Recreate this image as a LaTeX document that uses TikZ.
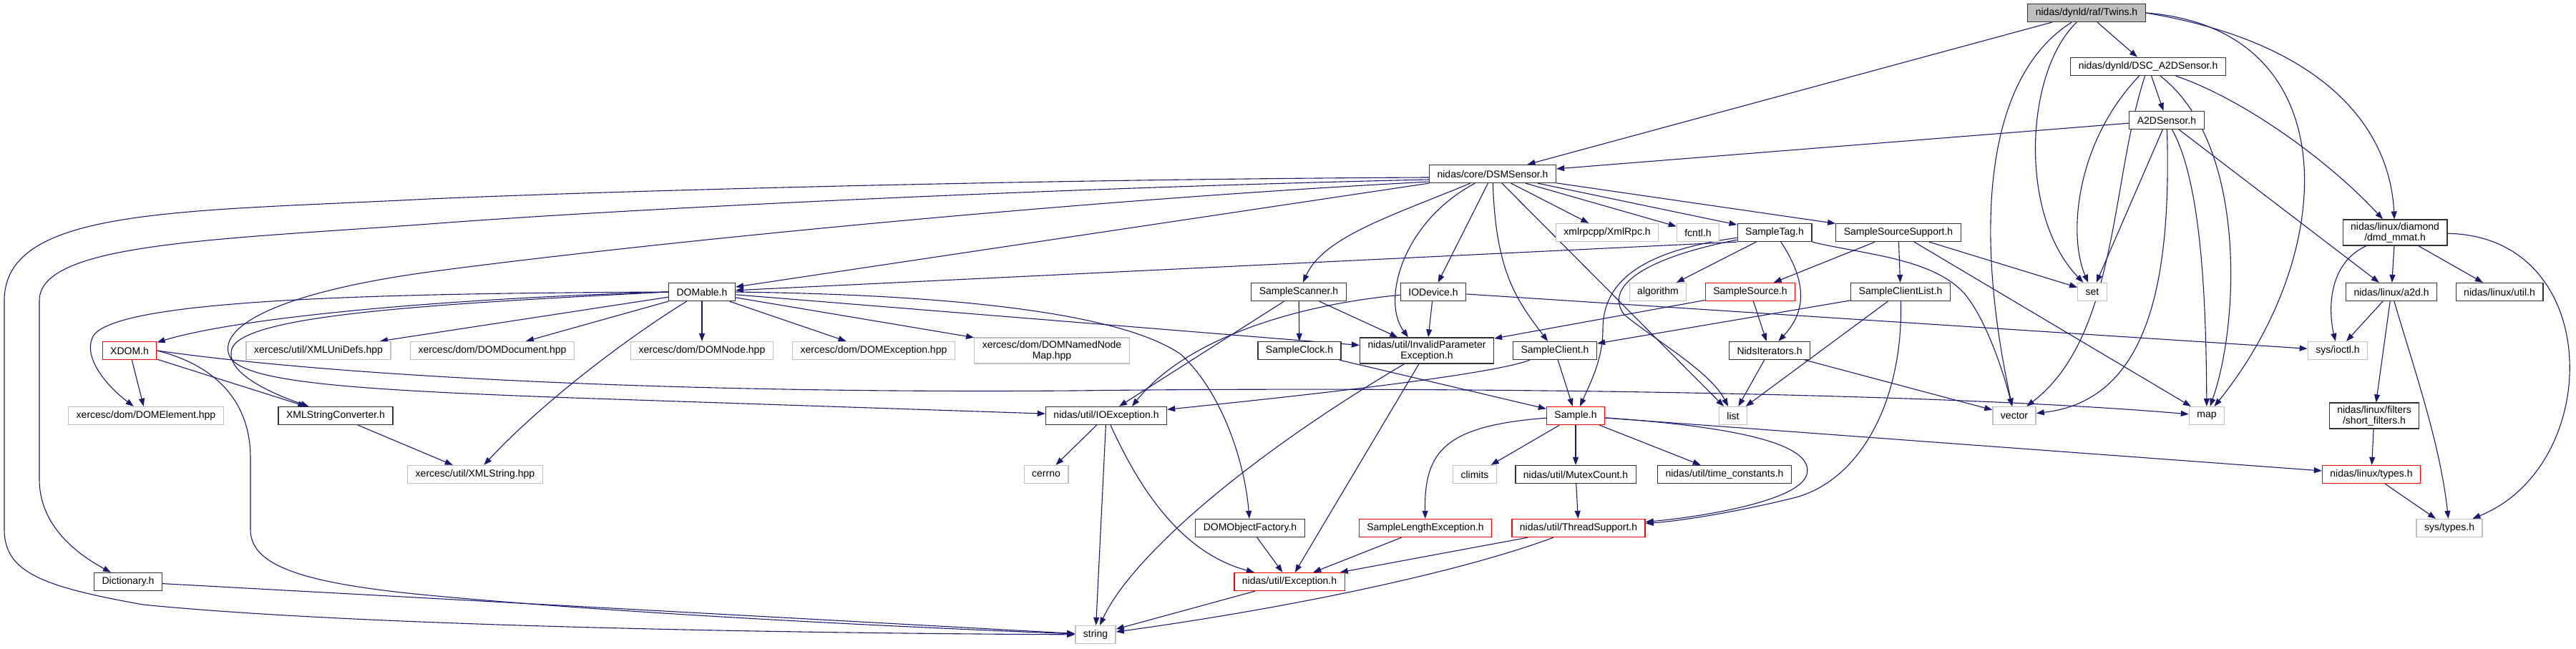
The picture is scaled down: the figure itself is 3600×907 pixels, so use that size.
\documentclass[tikz,border=0pt]{standalone}
\usepackage{fontspec}
\setmainfont{Liberation Sans}
\usetikzlibrary{arrows.meta,backgrounds}
\definecolor{depblue}{HTML}{191970}
\definecolor{sysgray}{HTML}{BFBFBF}

\begin{document}
\begin{tikzpicture}[x=1pt, y=-1pt,
  hfile/.style={rectangle, draw=black!80, line width=1.3pt, fill=white,
                minimum height=25pt, inner xsep=11pt, inner ysep=4pt,
                align=center, font=\fontsize{14}{15}\selectfont},
  sysfile/.style={hfile, draw=sysgray},
  badfile/.style={hfile, draw=red},
  rootfile/.style={hfile, fill=sysgray},
  dep/.style={draw=depblue, line width=1.1pt, -{Triangle[length=11pt,width=8pt]}},
]
  \useasboundingbox (0,0) rectangle (3600,907);

  % Top: Twins and the A2D sensor chain
  \node[rootfile] (twins) at (2916,18) {nidas/dynld/raf/Twins.h};
  \node[hfile] (dsc) at (3002,93) {nidas/dynld/DSC\_A2DSensor.h};
  \node[hfile] (a2ds) at (3028,168) {A2DSensor.h};
  \node[hfile] (dsm) at (2086,243) {nidas/core/DSMSensor.h};

  % Row under DSMSensor
  \node[sysfile] (xmlrpc) at (2246,325) {xmlrpcpp/XmlRpc.h};
  \node[sysfile] (fcntl) at (2373,325) {fcntl.h};
  \node[hfile] (stag) at (2480,325) {SampleTag.h};
  \node[hfile] (sss) at (2653,325) {SampleSourceSupport.h};
  \node[hfile] (dmd) at (3347,325) {nidas/linux/diamond\\/dmd\_mmat.h};

  \node[hfile] (domable) at (981,408) {DOMable.h};
  \node[hfile] (sscan) at (1815,408) {SampleScanner.h};
  \node[hfile] (iodev) at (2003,408) {IODevice.h};
  \node[sysfile] (algo) at (2317,408) {algorithm};
  \node[badfile] (ssource) at (2446,408) {SampleSource.h};
  \node[hfile] (sclist) at (2656,408) {SampleClientList.h};
  \node[sysfile] (set) at (2924,408) {set};
  \node[hfile] (a2d) at (3342,408) {nidas/linux/a2d.h};
  \node[hfile] (lutil) at (3493,408) {nidas/linux/util.h};

  % xerces headers and friends
  \node[badfile] (xdom) at (181,490) {XDOM.h};
  \node[sysfile] (unidefs) at (445,490) {xercesc/util/XMLUniDefs.hpp};
  \node[sysfile] (domdoc) at (688,490) {xercesc/dom/DOMDocument.hpp};
  \node[sysfile] (domnode) at (981,490) {xercesc/dom/DOMNode.hpp};
  \node[sysfile] (domexc) at (1221,490) {xercesc/dom/DOMException.hpp};
  \node[sysfile] (domnnm) at (1470,490) {xercesc/dom/DOMNamedNode\\Map.hpp};
  \node[hfile] (sclock) at (1816,490) {SampleClock.h};
  \node[hfile] (invparam) at (1994,490) {nidas/util/InvalidParameter\\Exception.h};
  \node[hfile] (sclient) at (2173,490) {SampleClient.h};
  \node[hfile] (niter) at (2473,490) {NidsIterators.h};
  \node[sysfile] (ioctl) at (3267,490) {sys/ioctl.h};

  \node[sysfile] (domelem) at (204,581) {xercesc/dom/DOMElement.hpp};
  \node[hfile] (xmlconv) at (469,581) {XMLStringConverter.h};
  \node[hfile] (ioexc) at (1546,581) {nidas/util/IOException.h};
  \node[badfile] (sample) at (2202,581) {Sample.h};
  \node[sysfile] (list) at (2422,581) {list};
  \node[sysfile] (vector) at (2815,581) {vector};
  \node[sysfile] (map) at (3084,581) {map};
  \node[hfile] (shortf) at (3318,581) {nidas/linux/filters\\/short\_filters.h};

  \node[sysfile] (xmlstr) at (664,663) {xercesc/util/XMLString.hpp};
  \node[sysfile] (cerrno) at (1462,663) {cerrno};
  \node[sysfile] (climits) at (2061,663) {climits};
  \node[hfile] (mutex) at (2202,663) {nidas/util/MutexCount.h};
  \node[hfile] (timec) at (2410,663) {nidas/util/time\_constants.h};
  \node[badfile] (ltypes) at (3314,663) {nidas/linux/types.h};

  \node[hfile] (domof) at (1747,738) {DOMObjectFactory.h};
  \node[badfile] (slexc) at (1992,738) {SampleLengthException.h};
  \node[badfile] (tsupport) at (2206,738) {nidas/util/ThreadSupport.h};
  \node[sysfile] (systypes) at (3423,738) {sys/types.h};

  \node[hfile] (dict) at (179,813) {Dictionary.h};
  \node[badfile] (exc) at (1802,813) {nidas/util/Exception.h};
  \node[sysfile] (string) at (1531,887) {string};

  \begin{scope}[on background layer]
  % Twins and sensor chain
  \draw[dep] (twins) -- (dsm);
  \draw[dep] (twins) -- (dsc);
  \draw[dep] (twins) .. controls (2770,110) and (2760,330) .. (vector);
  \draw[dep] (twins) .. controls (2830,100) and (2820,300) .. (set);
  \draw[dep] (twins.east) .. controls (3280,40) and (3270,350) .. (map);
  \draw[dep] (twins.east) .. controls (3250,60) and (3340,180) .. (dmd);
  \draw[dep] (dsc) -- (a2ds);
  \draw[dep] (dsc) .. controls (2900,200) and (2890,330) .. (set);
  \draw[dep] (dsc) .. controls (2950,250) and (2960,470) .. (vector);
  \draw[dep] (dsc) .. controls (3140,200) and (3130,450) .. (map);
  \draw[dep] (dsc) .. controls (3140,140) and (3260,230) .. (dmd);
  \draw[dep] (a2ds) -- (dsm);
  \draw[dep] (a2ds) -- (set);
  \draw[dep] (a2ds) .. controls (3035,400) and (3000,560) .. (vector);
  \draw[dep] (a2ds) .. controls (3080,260) and (3083,450) .. (map);
  \draw[dep] (a2ds) -- (a2d);
  \draw[dep] (dmd) -- (a2d);
  \draw[dep] (dmd) -- (lutil);
  \draw[dep] (dmd) .. controls (3250,370) and (3255,440) .. (ioctl);
  \draw[dep] (dmd) .. controls (3640,330) and (3640,650) .. (systypes);
  \draw[dep] (a2d) -- (ioctl);
  \draw[dep] (a2d) -- (shortf);
  \draw[dep] (a2d) .. controls (3375,520) and (3410,620) .. (systypes);
  \draw[dep] (shortf) -- (ltypes);
  \draw[dep] (ltypes) -- (systypes);

  % DSMSensor
  \draw[dep] (dsm) -- (domable);
  \draw[dep] ([yshift=-5pt]dsm.west) .. controls (1500,250) and (900,265) .. (600,278)
        .. controls (250,296) and (6,290) .. (6,420) -- (6,740)
        .. controls (6,800) and (60,820) .. (200,845)
        .. controls (500,875) and (1100,885) .. (string);
  \draw[dep] ([yshift=-8pt]dsm.west) .. controls (1500,262) and (900,290) .. (600,313)
        .. controls (300,335) and (55,340) .. (55,420) -- (55,670)
        .. controls (55,730) and (100,770) .. (dict);
  \draw[dep] ([yshift=-11pt]dsm.west) .. controls (1500,280) and (900,340) .. (600,380)
        .. controls (380,410) and (300,460) .. (322,500)
        .. controls (345,535) and (500,545) .. (800,556) -- (ioexc);
  \draw[dep] (dsm) .. controls (1950,300) and (1850,330) .. (sscan);
  \draw[dep] (dsm) -- (iodev);
  \draw[dep] (dsm) .. controls (1960,310) and (1930,420) .. ([xshift=-26pt]invparam.north);
  \draw[dep] (dsm) .. controls (2090,380) and (2120,420) .. (sclient);
  \draw[dep] (dsm) -- (list);
  \draw[dep] (dsm) -- (xmlrpc);
  \draw[dep] (dsm) -- (fcntl);
  \draw[dep] (dsm) -- (stag);
  \draw[dep] (dsm) -- (sss);

  % SampleTag, SampleSourceSupport and clients
  \draw[dep] (stag.south west) -- (domable);
  \draw[dep] (stag) -- (algo);
  \draw[dep] (stag) .. controls (2300,350) and (2240,390) .. (2240,460)
        .. controls (2240,500) and (2225,530) .. (sample);
  \draw[dep] (stag) .. controls (2300,360) and (2240,400) .. (2270,440)
        .. controls (2320,480) and (2390,520) .. (list);
  \draw[dep] (stag) .. controls (2530,400) and (2520,440) .. (niter);
  \draw[dep] (stag) .. controls (2600,355) and (2700,360) .. (2745,410)
        .. controls (2775,445) and (2800,520) .. (vector);
  \draw[dep] (sss) -- (ssource);
  \draw[dep] (sss) -- (sclist);
  \draw[dep] (sss) -- (set);
  \draw[dep] (sss) -- (map);
  \draw[dep] (ssource) -- (invparam);
  \draw[dep] (ssource) -- (niter);
  \draw[dep] (sclist) -- (sclient);
  \draw[dep] (sclist) -- (list);
  \draw[dep] (sclist) .. controls (2660,560) and (2600,670) .. (2510,695)
        .. controls (2430,715) and (2350,728) .. (tsupport);
  \draw[dep] (niter) -- (list);
  \draw[dep] (niter) -- (vector);

  % scanner, device, client
  \draw[dep] (sscan) -- (sclock);
  \draw[dep] (sscan) -- (invparam);
  \draw[dep] (sscan) -- ([xshift=18pt]ioexc.north);
  \draw[dep] (iodev) .. controls (1820,425) and (1660,470) .. ([xshift=36pt]ioexc.north);
  \draw[dep] (iodev) -- (invparam);
  \draw[dep] (iodev) -- (ioctl);
  \draw[dep] (sclient) -- (sample);
  \draw[dep] (sclient) .. controls (2080,525) and (1800,555) .. (ioexc);
  \draw[dep] (sclock) -- (sample);

  % Sample
  \draw[dep] (sample) -- (climits);
  \draw[dep] (sample) -- (mutex);
  \draw[dep] (sample) -- (timec);
  \draw[dep] (sample) .. controls (2020,595) and (1990,630) .. (slexc);
  \draw[dep] (sample) .. controls (2450,598) and (2535,625) .. (2525,663)
        .. controls (2515,700) and (2380,722) .. (tsupport);
  \draw[dep] (sample) -- (ltypes);
  \draw[dep] (mutex) -- (tsupport);

  % exceptions down to string
  \draw[dep] (invparam) -- (exc);
  \draw[dep] (invparam) .. controls (1740,640) and (1580,780) .. (string);
  \draw[dep] (ioexc) -- (cerrno);
  \draw[dep] (ioexc) -- (string);
  \draw[dep] (ioexc) .. controls (1600,700) and (1660,775) .. (exc);
  \draw[dep] (domof) -- (exc);
  \draw[dep] (slexc) -- (exc);
  \draw[dep] (tsupport) -- (exc);
  \draw[dep] (tsupport) .. controls (2040,800) and (1800,850) .. (string);
  \draw[dep] (exc) -- (string);

  % DOMable and the xerces side
  \draw[dep] (domable.west) .. controls (600,418) and (330,445) .. (xdom);
  \draw[dep] (domable.west) .. controls (500,410) and (160,420) .. (130,470)
        .. controls (115,500) and (150,540) .. (domelem);
  \draw[dep] (domable.west) .. controls (600,425) and (350,440) .. (325,485)
        .. controls (310,520) and (380,550) .. (xmlconv);
  \draw[dep] (domable) -- (unidefs);
  \draw[dep] (domable) -- (domdoc);
  \draw[dep] (domable) .. controls (880,470) and (760,560) .. (xmlstr);
  \draw[dep] (domable) -- (domnode);
  \draw[dep] (domable) -- (domexc);
  \draw[dep] (domable) -- (domnnm);
  \draw[dep] (domable) -- (invparam);
  \draw[dep] (domable.east) .. controls (1350,412) and (1570,440) .. (1650,495)
        .. controls (1710,550) and (1740,650) .. (domof);
  \draw[dep] (xdom) -- (domelem);
  \draw[dep] (xdom) -- (xmlconv);
  \draw[dep] (xdom.east) .. controls (300,510) and (350,560) .. (350,640) -- (350,740)
        .. controls (350,790) and (420,815) .. (600,832)
        .. controls (900,860) and (1300,878) .. (string);
  \draw[dep] (xdom.east) .. controls (500,530) and (1000,550) .. (1500,546)
        .. controls (2000,540) and (2700,548) .. (map);
  \draw[dep] (xmlconv) -- (xmlstr);
  \draw[dep] (dict) -- (string);
  \end{scope}

\end{tikzpicture}
\end{document}
